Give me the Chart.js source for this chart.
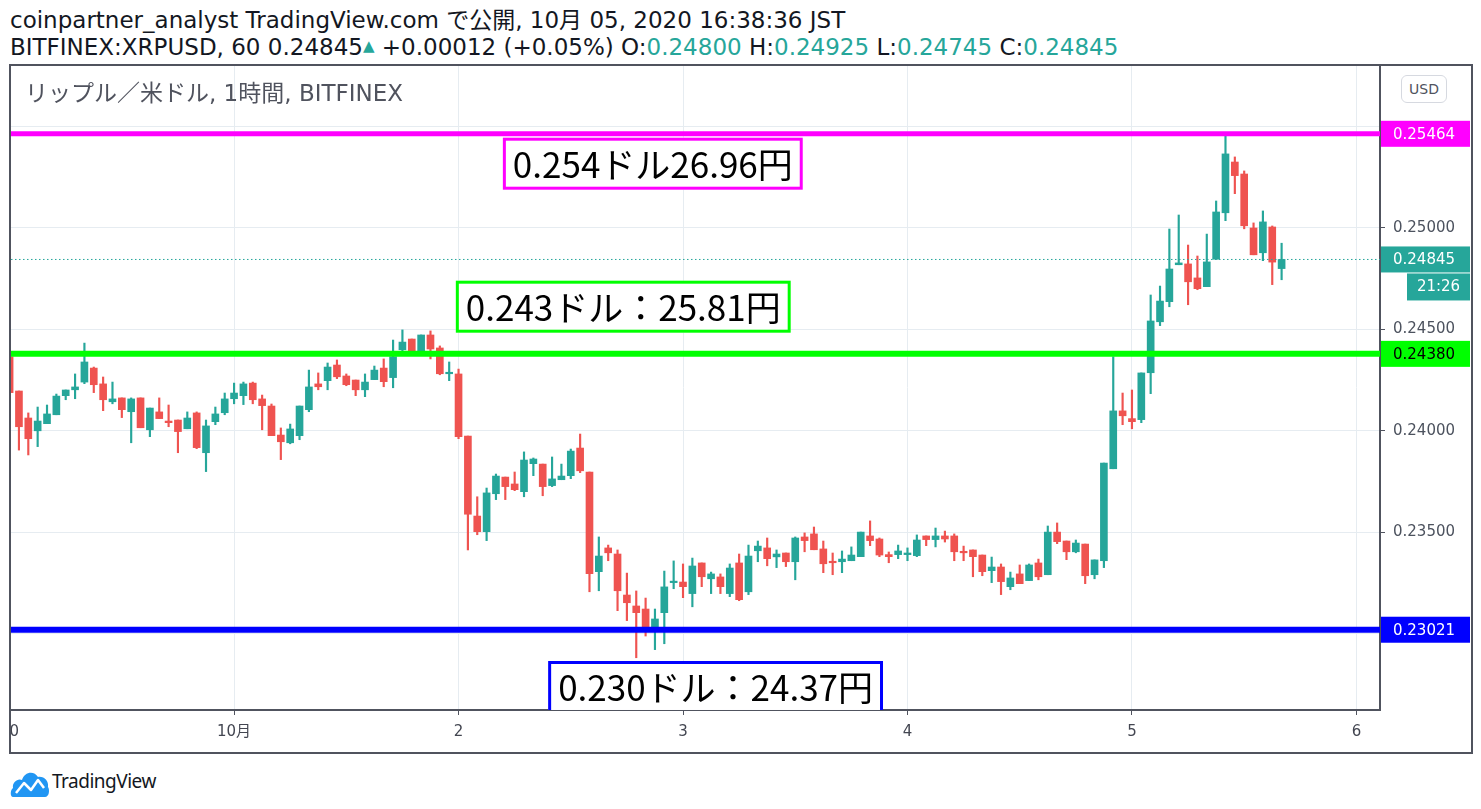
<!DOCTYPE html>
<html><head><meta charset="utf-8">
<script src="https://cdn.jsdelivr.net/npm/chart.js@4/dist/chart.umd.min.js"></script>
<style>
html,body{margin:0;padding:0;background:#fff;width:1481px;height:809px;overflow:hidden;font-family:"DejaVu Sans","Noto Sans CJK JP",sans-serif;}
.hdr{position:absolute;left:10px;font-size:23px;line-height:26px;color:#131722;white-space:nowrap;}
#h1{top:7px;}
#h2{top:33px;}
.up{color:#26a69a;}
.tri{font-size:15px;vertical-align:4px;color:#26a69a;}
#frame{position:absolute;left:9px;top:64px;width:1460px;height:686px;border:2px solid #50535e;}
#wrap{position:relative;width:1460px;height:686px;}
#title{position:absolute;left:25px;top:79px;font-size:23px;line-height:28px;color:#50535e;white-space:nowrap;}
#usd{position:absolute;left:1401px;top:75px;width:46px;height:28px;box-sizing:border-box;border:1px solid #d6d9e0;border-radius:6px;font:14px "DejaVu Sans",sans-serif;color:#50535e;text-align:center;line-height:26px;background:#fff;}
#logo{position:absolute;left:10px;top:768px;}
#foot{position:absolute;left:52px;top:768px;font-family:"Noto Sans",sans-serif;font-size:19px;line-height:26px;color:#131722;letter-spacing:-0.5px;}
</style></head>
<body>
<div class="hdr" id="h1">coinpartner_analyst TradingView.com で公開, 10月 05, 2020 16:38:36 JST</div>
<div class="hdr" id="h2">BITFINEX:XRPUSD, 60 0.24845<span class="tri">▲</span> +0.00012 (+0.05%) O:<span class="up">0.24800</span> H:<span class="up">0.24925</span> L:<span class="up">0.24745</span> C:<span class="up">0.24845</span></div>
<div id="frame"><div id="wrap"><canvas id="c"></canvas></div></div>
<div id="title">リップル／米ドル, 1時間, BITFINEX</div>
<div id="usd">USD</div>
<svg id="logo" width="40" height="30" viewBox="0 0 40 30"><path d="M3 29 C0 29 0 22 3 20 C2 14 8 10 12 12 C14 4 24 2 28 9 C34 8 39 13 38 19 C40 22 39 29 35 29 Z" fill="#2196f3"/><polyline points="6,25 14,15 21,22 28,12 34,20" fill="none" stroke="#fff" stroke-width="2.5" stroke-linejoin="round"/></svg>
<div id="foot">TradingView</div>
<script>
// ---- data (hourly candles from 9/30 00:00 to 10/5 16:00) ----
const openP = [0.24366,0.24197,0.24064,0.24001,0.24036,0.24080,0.24174,0.24203,0.24241,0.24310,0.24232,0.24144,0.24163,0.24095,0.24163,0.24006,0.24094,0.24049,0.24054,0.24011,0.24089,0.23893,0.24046,0.24090,0.24159,0.24174,0.24236,0.24158,0.24123,0.23980,0.23942,0.23977,0.24105,0.24232,0.24248,0.24325,0.24271,0.24251,0.24203,0.24253,0.24310,0.24263,0.24400,0.24453,0.24394,0.24473,0.24409,0.24282,0.24281,0.23975,0.23581,0.23504,0.23691,0.23773,0.23739,0.23701,0.23839,0.23837,0.23731,0.23760,0.23780,0.23916,0.23798,0.23307,0.23424,0.23394,0.23192,0.23138,0.23123,0.23020,0.23105,0.23253,0.23256,0.23199,0.23350,0.23272,0.23281,0.23199,0.23350,0.23208,0.23410,0.23424,0.23380,0.23399,0.23356,0.23478,0.23493,0.23419,0.23356,0.23356,0.23361,0.23381,0.23483,0.23468,0.23391,0.23391,0.23391,0.23386,0.23483,0.23465,0.23483,0.23483,0.23404,0.23414,0.23389,0.23312,0.23330,0.23233,0.23296,0.23263,0.23350,0.23292,0.23502,0.23458,0.23405,0.23443,0.23292,0.23361,0.23814,0.24099,0.24061,0.24056,0.24287,0.24538,0.24637,0.24819,0.24823,0.24754,0.24711,0.24846,0.25075,0.25325,0.25266,0.25000,0.24878,0.25005,0.24800];
const highP = [0.24374,0.24197,0.24089,0.24118,0.24128,0.24182,0.24202,0.24281,0.24433,0.24315,0.24266,0.24241,0.24163,0.24163,0.24163,0.24113,0.24163,0.24128,0.24054,0.24094,0.24094,0.24054,0.24118,0.24187,0.24236,0.24241,0.24241,0.24177,0.24133,0.24015,0.24034,0.24123,0.24300,0.24286,0.24335,0.24350,0.24281,0.24251,0.24281,0.24320,0.24355,0.24448,0.24498,0.24453,0.24473,0.24493,0.24419,0.24340,0.24305,0.23975,0.23676,0.23719,0.23788,0.23773,0.23798,0.23897,0.23867,0.23837,0.23872,0.23837,0.23911,0.23985,0.23798,0.23478,0.23438,0.23414,0.23300,0.23212,0.23177,0.23123,0.23310,0.23360,0.23345,0.23374,0.23350,0.23305,0.23296,0.23345,0.23394,0.23438,0.23458,0.23473,0.23414,0.23399,0.23478,0.23498,0.23527,0.23458,0.23399,0.23409,0.23429,0.23502,0.23557,0.23473,0.23404,0.23438,0.23424,0.23488,0.23483,0.23522,0.23507,0.23493,0.23433,0.23414,0.23389,0.23379,0.23345,0.23305,0.23340,0.23345,0.23369,0.23532,0.23547,0.23458,0.23463,0.23443,0.23365,0.23842,0.24366,0.24187,0.24202,0.24286,0.24670,0.24714,0.24995,0.25064,0.24916,0.24862,0.24970,0.25133,0.25464,0.25350,0.25281,0.25025,0.25084,0.25010,0.24925];
const lowP = [0.24177,0.23906,0.23882,0.23923,0.24036,0.24080,0.24154,0.24159,0.24233,0.24189,0.24100,0.24134,0.24066,0.23942,0.24016,0.23972,0.24061,0.24021,0.23893,0.24011,0.23913,0.23800,0.24031,0.24080,0.24134,0.24130,0.24134,0.24006,0.23977,0.23859,0.23937,0.23957,0.24095,0.24203,0.24203,0.24258,0.24223,0.24174,0.24169,0.24253,0.24218,0.24213,0.24389,0.24384,0.24389,0.24355,0.24277,0.24248,0.23962,0.23414,0.23489,0.23460,0.23662,0.23662,0.23706,0.23676,0.23780,0.23681,0.23726,0.23760,0.23765,0.23795,0.23208,0.23213,0.23361,0.23115,0.23066,0.22883,0.22990,0.22923,0.22952,0.23223,0.23179,0.23134,0.23233,0.23199,0.23199,0.23184,0.23164,0.23194,0.23356,0.23336,0.23327,0.23332,0.23267,0.23405,0.23415,0.23302,0.23292,0.23302,0.23361,0.23381,0.23435,0.23381,0.23351,0.23371,0.23361,0.23381,0.23435,0.23429,0.23453,0.23361,0.23361,0.23282,0.23287,0.23253,0.23194,0.23218,0.23248,0.23263,0.23267,0.23292,0.23445,0.23366,0.23400,0.23248,0.23272,0.23327,0.23814,0.24031,0.24011,0.24041,0.24184,0.24519,0.24612,0.24819,0.24622,0.24696,0.24711,0.24846,0.25036,0.25169,0.24996,0.24868,0.24839,0.24721,0.24745];
const closeP = [0.24189,0.24021,0.23962,0.24049,0.24084,0.24172,0.24202,0.24217,0.24340,0.24228,0.24154,0.24158,0.24105,0.24158,0.24016,0.24113,0.24061,0.24041,0.23997,0.24064,0.23918,0.24025,0.24084,0.24158,0.24187,0.24232,0.24154,0.24125,0.23977,0.23947,0.24010,0.24123,0.24217,0.24218,0.24315,0.24267,0.24228,0.24203,0.24241,0.24300,0.24243,0.24366,0.24438,0.24394,0.24473,0.24404,0.24282,0.24286,0.23972,0.23590,0.23504,0.23695,0.23778,0.23726,0.23711,0.23857,0.23862,0.23726,0.23764,0.23778,0.23901,0.23804,0.23297,0.23384,0.23400,0.23213,0.23154,0.23105,0.23025,0.23074,0.23232,0.23256,0.23233,0.23335,0.23282,0.23296,0.23233,0.23325,0.23169,0.23384,0.23433,0.23371,0.23394,0.23356,0.23473,0.23460,0.23415,0.23346,0.23351,0.23369,0.23389,0.23502,0.23460,0.23389,0.23381,0.23409,0.23399,0.23463,0.23465,0.23483,0.23468,0.23405,0.23400,0.23381,0.23307,0.23330,0.23258,0.23276,0.23248,0.23340,0.23282,0.23502,0.23455,0.23405,0.23448,0.23287,0.23365,0.23842,0.24099,0.24075,0.24046,0.24286,0.24542,0.24640,0.24798,0.24828,0.24735,0.24701,0.24833,0.25079,0.25365,0.25258,0.25011,0.24868,0.25030,0.24832,0.24845];

const dayTickHours = [0, 24, 48, 72, 96, 120, 144];
const dayTickLabels = ['30', '10月', '2', '3', '4', '5', '6'];
const yTickValues = [0.230, 0.235, 0.240, 0.245, 0.250, 0.255];
const yLabelValues = [0.235, 0.240, 0.245, 0.250];

const levelPrices = [0.25464, 0.24380, 0.23021];
const levelColors = ['#ff00ff', '#00ff00', '#0000ff'];
const levelTextColors = ['#ffffff', '#000000', '#ffffff'];
const levelWidths = [5, 6, 6];

const lastPrice = 0.24845;
const countdown = '21:26';

const annTexts = ['0.254ドル26.96円', '0.243ドル：25.81円', '0.230ドル：24.37円'];
const annColors = ['#ff00ff', '#00ff00', '#0000ff'];
const annHours = [52.74, 47.71, 57.58];
const annPrices = [0.254448, 0.247404, 0.228670];

// ---- chart ----
const UP = '#26a69a', DOWN = '#ef5350';
const xMin = 0.15, xMax = 146.52;
const colors = closeP.map((c, i) => c >= openP[i] ? UP : DOWN);
const wickData = highP.map((h, i) => ({x: i, y: [lowP[i], h]}));
const bodyData = openP.map((o, i) => ({x: i, y: [o, closeP[i]]}));

const overlay = {
  id: 'overlay',
  afterDatasetsDraw(chart) {
    const {ctx, chartArea: a, scales: {x, y}} = chart;
    ctx.save();
    ctx.beginPath();
    ctx.rect(a.left, a.top, a.right - a.left, a.bottom - a.top);
    ctx.clip();
    ctx.font = '35px "Noto Sans CJK JP", sans-serif';
    ctx.textBaseline = 'middle';
    annTexts.forEach((t, k) => {
      const px = x.getPixelForValue(annHours[k]);
      const py = y.getPixelForValue(annPrices[k]);
      const w = ctx.measureText(t).width + 20;
      const h = 52;
      ctx.fillStyle = '#fff';
      ctx.fillRect(px, py, w, h);
      ctx.lineWidth = 3;
      ctx.strokeStyle = annColors[k];
      ctx.strokeRect(px + 1.5, py + 1.5, w - 3, h - 3);
      ctx.fillStyle = '#000';
      ctx.fillText(t, px + 10, py + h / 2 + 1);
    });
    ctx.restore();
  },
  afterDraw(chart) {
    const {ctx, chartArea: a, scales: {y}, width} = chart;
    ctx.save();
    ctx.font = '15px "DejaVu Sans", sans-serif';
    ctx.textBaseline = 'middle';
    const boxL = a.right + 1, boxR = width - 1;
    const drawBox = (val, bg, fg, text, left) => {
      const py = y.getPixelForValue(val);
      ctx.fillStyle = bg;
      ctx.fillRect(left, py - 13, boxR - left, 26);
      ctx.fillStyle = fg;
      ctx.textAlign = 'left';
      ctx.fillText(text, a.right + 13, py + 1);
    };
    levelPrices.forEach((p, k) => drawBox(p, levelColors[k], levelTextColors[k], p.toFixed(5), boxL));
    drawBox(lastPrice, UP, '#fff', lastPrice.toFixed(5), boxL);
    const py = y.getPixelForValue(lastPrice);
    ctx.fillStyle = UP;
    ctx.fillRect(a.right + 27, py + 14, boxR - a.right - 27, 27);
    ctx.fillStyle = '#fff';
    ctx.textAlign = 'center';
    ctx.fillText(countdown, (a.right + 27 + boxR) / 2, py + 28);
    ctx.restore();
  }
};

const lineDs = (p, color, w, dash) => ({
  type: 'line', data: [{x: xMin, y: p}, {x: xMax, y: p}],
  borderColor: color, borderWidth: w, pointRadius: 0, borderDash: dash || [], order: 0
});

new Chart(document.getElementById('c'), {
  type: 'bar',
  data: {
    datasets: [
      ...levelPrices.map((p, k) => lineDs(p, levelColors[k], levelWidths[k])),
      lineDs(lastPrice, UP, 1, [1.5, 2.5]),
      {type: 'bar', data: bodyData, backgroundColor: colors, barThickness: 7, minBarLength: 1.5, grouped: false, order: 1},
      {type: 'bar', data: wickData, backgroundColor: colors, barThickness: 1.5, grouped: false, order: 2}
    ]
  },
  options: {
    responsive: true, maintainAspectRatio: false, animation: false, events: [],
    layout: {padding: 0},
    plugins: {legend: {display: false}, tooltip: {enabled: false}, title: {display: false}},
    scales: {
      x: {
        type: 'linear', min: xMin, max: xMax, offset: false, bounds: 'data',
        afterBuildTicks: s => { s.ticks = dayTickHours.map(v => ({value: v})); },
        afterFit: s => { s.height = 42; s.paddingLeft = 0; s.paddingRight = 0; },
        ticks: {
          autoSkip: false, maxRotation: 0, padding: 8, color: '#434651',
          font: {family: '"DejaVu Sans", "Noto Sans CJK JP", sans-serif', size: 15},
          callback: v => { const k = dayTickHours.indexOf(v); return k >= 0 ? dayTickLabels[k] : ''; }
        },
        grid: {color: '#e6ecf1', tickColor: '#50535e', tickLength: 5, lineWidth: 1, offset: false},
        border: {color: '#50535e', width: 2}
      },
      y: {
        type: 'linear', position: 'right', min: 0.226256, max: 0.25798,
        afterBuildTicks: s => { s.ticks = yTickValues.map(v => ({value: v})); },
        afterFit: s => { s.width = 91; s.paddingTop = 0; s.paddingBottom = 0; },
        ticks: {
          padding: 8, color: '#4c525e',
          font: {family: '"DejaVu Sans", sans-serif', size: 15},
          callback: v => yLabelValues.some(t => Math.abs(t - v) < 1e-9) ? v.toFixed(5) : ''
        },
        grid: {color: '#e6ecf1', tickColor: '#50535e', tickLength: 5, lineWidth: 1},
        border: {color: '#50535e', width: 2}
      }
    }
  },
  plugins: [overlay]
});
</script>
</body></html>
